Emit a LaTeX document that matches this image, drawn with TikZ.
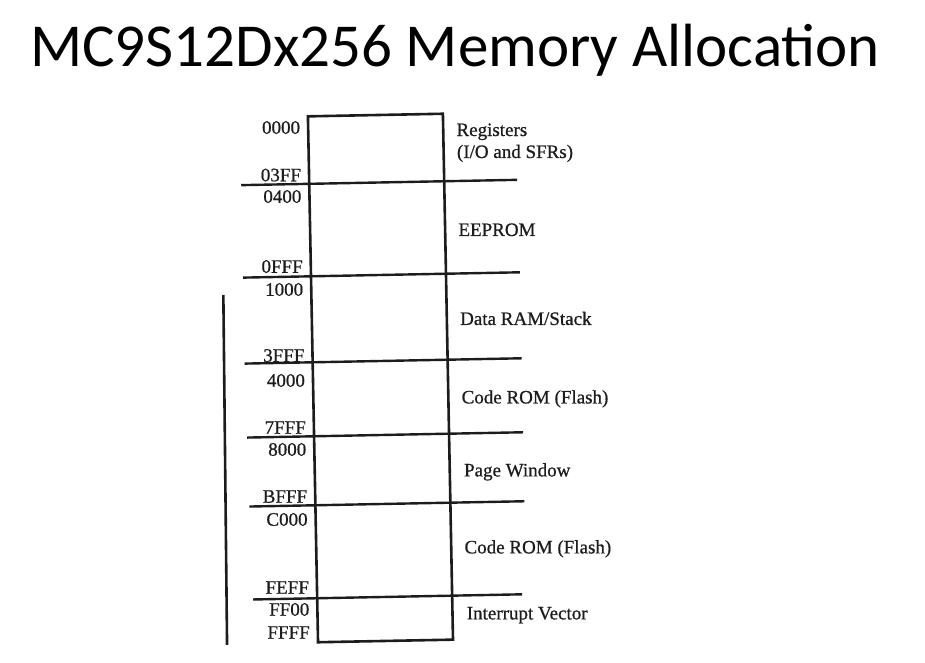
\documentclass[tikz,border=0pt]{standalone}
\usepackage{fontspec}
\setmainfont{Liberation Serif}
\newfontfamily\scanfont{Liberation Serif}[FakeBold=0.7]
\newfontfamily\titlefont{Carlito}
\usetikzlibrary{positioning}
\definecolor{scanInk}{HTML}{1c1c1c}

\tikzset{
  addr/.style={anchor=base east, inner sep=0pt, text=scanInk,
    font=\scanfont\fontsize{19}{19}\selectfont},
  region/.style={anchor=base west, inner sep=0pt, text=scanInk,
    font=\scanfont\fontsize{19}{19}\selectfont},
  divider/.style={scanInk, line width=2.4pt},
}

\begin{document}
\begin{tikzpicture}[x=1pt, y=-1pt]
        \useasboundingbox (0,0) rectangle (925,662);
        \node[anchor=base, inner sep=0pt, font=\titlefont\fontsize{61}{61}\selectfont] (title) at (455,66) {MC9S12Dx256 Memory Allocation};
        \begin{scope}[rotate around={1.1:(380,380)}]
          % edge of the scanned page
          \draw[scanInk, line width=2.6pt] (225,292) -- (222,642);
          \draw[scanInk, line width=2.6pt] (313,115) -- (448,115) -- (448,641) -- (313,641) -- cycle;
          \draw[divider] (245,182.5) -- (521,182.5);
          \draw[divider] (245,275) -- (522,275);
          \draw[divider] (245,361) -- (522,361);
          \draw[divider] (246,435) -- (522,435);
          \draw[divider] (247,504) -- (522,504);
          \draw[divider] (249,597) -- (518,597);
          \node[addr] (a0000) at (305,132.3) {0000};
          \node[addr] (a03FF) at (305,179.8) {03FF};
          \node[addr] (a0400) at (305,201.3) {0400};
          \node[addr] (a0FFF) at (305,271.3) {0FFF};
          \node[addr] (a1000) at (305,294.3) {1000};
          \node[addr] (a3FFF) at (305,360.3) {3FFF};
          \node[addr] (a4000) at (305,385.3) {4000};
          \node[addr] (a7FFF) at (305,432.3) {7FFF};
          \node[addr] (a8000) at (305,454.3) {8000};
          \node[addr] (aBFFF) at (305,501.3) {BFFF};
          \node[addr] (aC000) at (305,524.3) {C000};
          \node[addr] (aFEFF) at (305,592.3) {FEFF};
          \node[addr] (aFF00) at (305,614.3) {FF00};
          \node[addr] (aFFFF) at (305,637.3) {FFFF};
          \node[region] (regs) at (461,137.5) {Registers};
          \node[region] (sfrs) at (461,159.5) {(I/O and SFRs)};
          \node[region] (eeprom) at (461,237.5) {EEPROM};
          \node[region] (dataram) at (461,326.5) {Data RAM/Stack};
          \node[region] (flashlo) at (461,405) {Code ROM (Flash)};
          \node[region] (pagewin) at (462,478) {Page Window};
          \node[region] (flashhi) at (461,555) {Code ROM (Flash)};
          \node[region] (intvec) at (462,621) {Interrupt Vector};
        \end{scope}
      \end{tikzpicture}
\end{document}
